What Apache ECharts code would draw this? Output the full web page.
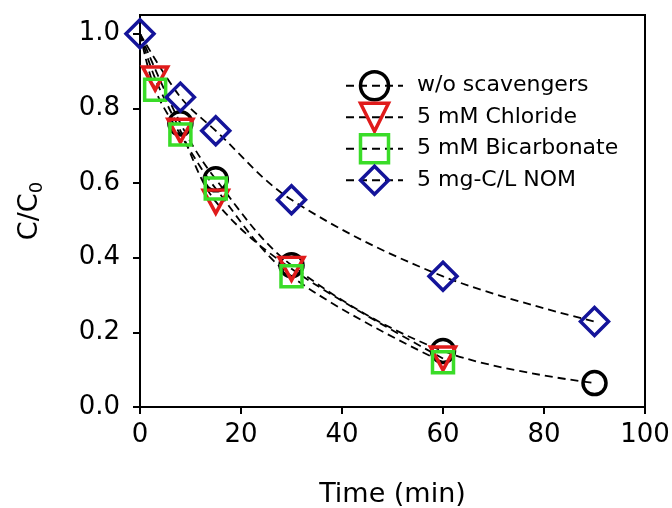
<!DOCTYPE html>
<html>
<head>
<meta charset="utf-8">
<script src="https://cdn.jsdelivr.net/npm/echarts@6/dist/echarts.min.js"></script>
<style>
	html, body { margin: 0; padding: 0; background: #fff; }
	#chart { width: 672px; height: 508px; }
</style>
</head>
<body>
<div id="chart"></div>
<script>
// data
const seriesNames = ['w/o scavengers', '5 mM Chloride', '5 mM Bicarbonate', '5 mg-C/L NOM'];
const noneData = [[0, 1.0], [8, 0.76], [15, 0.61], [30, 0.38], [60, 0.15], [90, 0.064]];
const chlorideData = [[0, 1.0], [3, 0.88], [8, 0.74], [15, 0.55], [30, 0.37], [60, 0.13]];
const bicarbData = [[0, 1.0], [3, 0.85], [8, 0.73], [15, 0.585], [30, 0.35], [60, 0.12]];
const nomData = [[0, 1.0], [8, 0.83], [15, 0.74], [30, 0.555], [60, 0.35], [90, 0.229]];
const xTicks = [0, 20, 40, 60, 80, 100];
const yTicks = [0, 0.2, 0.4, 0.6, 0.8, 1.0];

const chart = echarts.init(document.getElementById('chart'));
const font = 'DejaVu Sans';

// hide marker at t=0 for the series that sit under the NOM diamond
const hideFirst = (arr) => arr.map((d, i) => (i === 0 ? { value: d, symbol: 'none' } : d));

const makeSeries = (name, data, symbol, size, color, rotate) => ({
	name: name,
	type: 'line',
	smooth: 0.35,
	data: data,
	symbol: symbol,
	symbolSize: size,
	symbolRotate: rotate || 0,
	lineStyle: { color: '#000', width: 1.8, type: [8, 5] },
	itemStyle: { color: 'rgba(255,255,255,0)', borderColor: color, borderWidth: 3.5 },
	emphasis: { disabled: true },
});

const option = {
	animation: false,
	grid: {
		left: 140, right: 27, top: 15, bottom: 101,
		outerBoundsMode: 'none',
		show: true, borderColor: '#000', borderWidth: 2,
	},
	legend: {
		left: 340,
		top: 65,
		orient: 'vertical',
		itemWidth: 57,
		itemHeight: 35,
		itemGap: 0,
		data: seriesNames,
		itemStyle: { borderWidth: 3.5 },
		textStyle: { fontFamily: font, fontSize: 22, color: '#000', padding: [0, 0, 0, 9] },
	},
	xAxis: {
		type: 'value',
		min: 0,
		max: 100,
		interval: 20,
		name: 'Time (min)',
		nameLocation: 'middle',
		nameGap: 74,
		nameTextStyle: { fontFamily: font, fontSize: 27, color: '#000' },
		axisLine: { lineStyle: { color: '#000', width: 2 } },
		axisTick: { inside: false, length: 7, lineStyle: { width: 2 }, customValues: xTicks },
		axisLabel: { fontFamily: font, fontSize: 26, color: '#000', margin: 15, customValues: xTicks },
		splitLine: { show: false },
	},
	yAxis: {
		type: 'value',
		min: 0,
		max: 1.05,
		name: 'C/C{s|0}',
		nameLocation: 'middle',
		nameGap: 94,
		nameRotate: 90,
		nameTextStyle: {
			fontFamily: font,
			fontSize: 27,
			color: '#000',
			rich: { s: { fontFamily: font, fontSize: 18, color: '#000', padding: [14, 0, 0, 0] } },
		},
		axisLine: { show: true, lineStyle: { color: '#000', width: 2 } },
		axisTick: { show: true, inside: false, length: 7, lineStyle: { width: 2 }, customValues: yTicks },
		axisLabel: {
			fontFamily: font,
			fontSize: 26,
			color: '#000',
			margin: 20,
			customValues: yTicks,
			formatter: (v) => v.toFixed(1),
		},
		splitLine: { show: false },
	},
	series: [
		makeSeries(seriesNames[0], hideFirst(noneData), 'circle', 23, '#000'),
		makeSeries(seriesNames[1], hideFirst(chlorideData), 'triangle', [25, 23], '#e01b1b', 180),
		makeSeries(seriesNames[2], hideFirst(bicarbData), 'rect', 21, '#3adc28'),
		makeSeries(seriesNames[3], nomData, 'diamond', 28, '#14149a'),
	],
};

chart.setOption(option);
</script>
</body>
</html>
